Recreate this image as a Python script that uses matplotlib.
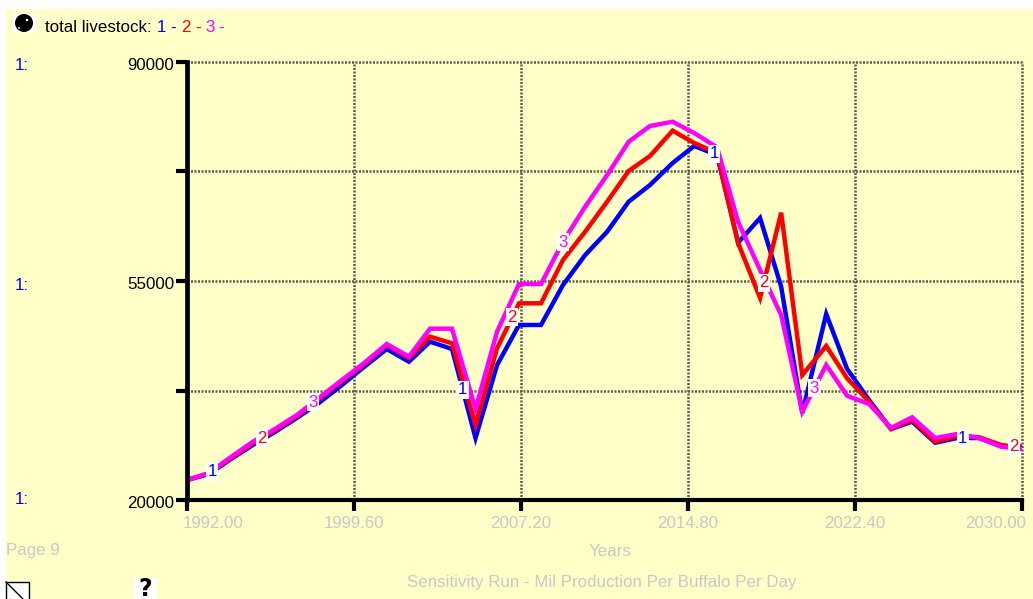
# Stella style sensitivity graph: total livestock, runs 1 - 3

import numpy as np
import matplotlib
matplotlib.use("Agg")
import matplotlib.pyplot as plt
from matplotlib.patches import Circle, Rectangle
from matplotlib.transforms import ScaledTranslation

plt.rcParams["font.family"] = ["Liberation Sans", "DejaVu Sans"]

# =========================
# 1. Data
# =========================

years = [1992.0, 1993.0, 1994.0, 1995.0, 1996.0, 1997.0, 1998.0, 1999.05, 2000.06, 2001.09,
         2002.1, 2003.06, 2004.06, 2005.13, 2006.11, 2007.11, 2008.11, 2009.11, 2010.12, 2011.12,
         2012.1, 2013.07, 2014.1, 2015.08, 2016.12, 2017.08, 2018.08, 2019.04, 2020.0, 2021.09,
         2022.04, 2023.04, 2024.04, 2025.0, 2026.05, 2027.05, 2028.05, 2029.05, 2030.0]

run_1 = [23240, 24200, 26590, 28830, 30900, 33140, 35530, 38400, 41280, 44150,
         42120, 45310, 44150, 29940, 41590, 47980, 47980, 54360, 59150, 62870,
         67660, 70320, 73830, 76550, 75110, 61110, 65060, 54090, 33930, 49730,
         40960, 36010, 31380, 32550, 29190, 29940, 29940, 28670, 28560]

run_2 = [23240, 24300, 26700, 29100, 31150, 33400, 36100, 39000, 41700, 44790,
         42710, 46110, 45060, 32020, 44260, 51440, 51440, 58350, 62870, 67660,
         72560, 74950, 78990, 77030, 75430, 61070, 52290, 65900, 40000, 44630,
         39470, 35740, 31380, 32820, 29350, 30260, 30060, 28830, 28350]

run_3 = [23240, 24360, 26910, 29350, 31380, 33610, 36330, 39200, 41910, 44950,
         42920, 47390, 47390, 34570, 46910, 54520, 54520, 61270, 66860, 71920,
         77230, 79740, 80420, 78620, 76340, 64460, 56760, 49570, 34140, 41590,
         36690, 35370, 31540, 33250, 29940, 30580, 29940, 28550, 28190]

x_ticks = [1992.0, 1999.6, 2007.2, 2014.8, 2022.4, 2030.0]
x_tick_labels = ["1992.00", "1999.60", "2007.20", "2014.80", "2022.40", "2030.00"]
y_ticks = [20000, 37500, 55000, 72500, 90000]
y_tick_labels = ["20000", "", "55000", "", "90000"]

label_years = [1993.14, 1995.4, 1997.75, 2004.55, 2006.8, 2009.1, 2016.0, 2018.25, 2020.55, 2027.3, 2029.65]
label_runs = [1, 2, 3, 1, 2, 3, 1, 2, 3, 1, 2]

BLUE = "#0000ff"
RED = "#ff0000"
MAGENTA = "#ff00ff"
PALE = "#ffffc8"
GREY = "#c8c8c8"

W, H = 1033, 599
FONT = 12.2


# =========================
# 2. Page furniture in pixel coordinates
# =========================

def draw_page(fig):
    page = fig.add_axes([0, 0, 1, 1], zorder=0)
    page.set_xlim(0, W)
    page.set_ylim(H, 0)
    page.axis("off")

    page.add_patch(Rectangle((6, 9), W - 6, H - 9, color=PALE, lw=0))

    # ball icon
    page.add_patch(Rectangle((13, 14), 23, 18, color="white", lw=0))
    page.add_patch(Circle((24, 23), 9, color="black", lw=0))
    page.add_patch(Circle((27, 20), 1.3, color="white", lw=0))
    page.add_patch(Circle((19, 28), 0.9, color="white", lw=0))

    # legend line
    legend_parts = [(45, "total livestock:", "black"), (157, "1", BLUE), (170, "-", BLUE),
                    (181, "2", RED), (195, "-", RED), (205, "3", MAGENTA), (218, "-", MAGENTA)]
    for x, part, colour in legend_parts:
        page.text(x, 28, part, color=colour, fontsize=FONT, va="center", ha="left")

    for y in [66, 285, 500]:
        page.text(15, y, "1:", color=BLUE, fontsize=FONT, va="center", ha="left")

    page.text(6, 551, "Page 9", color=GREY, fontsize=FONT, va="center", ha="left")
    page.text(610, 551, "Years", color=GREY, fontsize=FONT, va="center", ha="center")
    page.text(602, 582, "Sensitivity Run - Mil Production Per Buffalo Per Day",
              color=GREY, fontsize=FONT, va="center", ha="center")

    # page corner and help icon
    page.add_patch(Rectangle((6, 582), 23, 20, facecolor="white", edgecolor="black", lw=1))
    page.plot([6, 26], [582, 602], color="black", lw=1)
    page.add_patch(Rectangle((134, 578), 23, 21, color="white", lw=0))
    page.text(145, 589, "?", color="black", fontsize=17, fontweight="bold",
              family="DejaVu Sans", va="center", ha="center")


# =========================
# 3. Main graph
# =========================

def draw_graph(fig):
    ax = fig.add_axes([187 / W, 1 - 500.3 / H, 835 / W, 438.6 / H], zorder=1)
    ax.patch.set_alpha(0)
    ax.set_xlim(1992, 2030)
    ax.set_ylim(20000, 90000)

    ax.grid(True, color="#5c5c50", linestyle=(0, (0.8, 0.6)), linewidth=1.8)
    for line in ax.get_xgridlines() + ax.get_ygridlines():
        line.set_clip_on(False)

    ax.plot(years, run_1, color=BLUE, lw=3.2, solid_joinstyle="miter")
    ax.plot(years, run_2, color=RED, lw=3.2, solid_joinstyle="miter")
    ax.plot(years, run_3, color=MAGENTA, lw=3.2, solid_joinstyle="miter")

    series = {1: (run_1, BLUE), 2: (run_2, RED), 3: (run_3, MAGENTA)}
    for yr, run in zip(label_years, label_runs):
        values, colour = series[run]
        ax.text(yr, np.interp(yr, years, values), str(run), color=colour, fontsize=FONT,
                ha="center", va="center", zorder=5,
                bbox=dict(facecolor="white", edgecolor="none", pad=1))

    ax.spines["top"].set_visible(False)
    ax.spines["right"].set_visible(False)
    ax.spines["left"].set_linewidth(3.4)
    ax.spines["bottom"].set_linewidth(3)

    ax.set_xticks(x_ticks)
    ax.set_xticklabels(x_tick_labels, color=GREY, fontsize=FONT)
    ax.set_yticks(y_ticks)
    ax.set_yticklabels(y_tick_labels, color="black", fontsize=FONT)
    ax.tick_params(axis="both", length=8, width=3, color="black")
    ax.tick_params(axis="x", pad=3)
    ax.tick_params(axis="y", pad=1)

    # end labels sit just past the axis ends, y labels a little lower than their ticks
    labels = ax.get_xticklabels()
    labels[0].set_ha("left")
    labels[-1].set_ha("right")
    labels[0].set_transform(labels[0].get_transform()
                            + ScaledTranslation(-4 / 100, 0, fig.dpi_scale_trans))
    labels[-1].set_transform(labels[-1].get_transform()
                             + ScaledTranslation(4 / 100, 0, fig.dpi_scale_trans))
    for label in ax.get_yticklabels():
        label.set_transform(label.get_transform()
                            + ScaledTranslation(0, -2 / 100, fig.dpi_scale_trans))


if __name__ == "__main__":
    fig = plt.figure(figsize=(W / 100, H / 100), dpi=100, facecolor="white")
    draw_page(fig)
    draw_graph(fig)
    fig.savefig("out.png", dpi=100)
